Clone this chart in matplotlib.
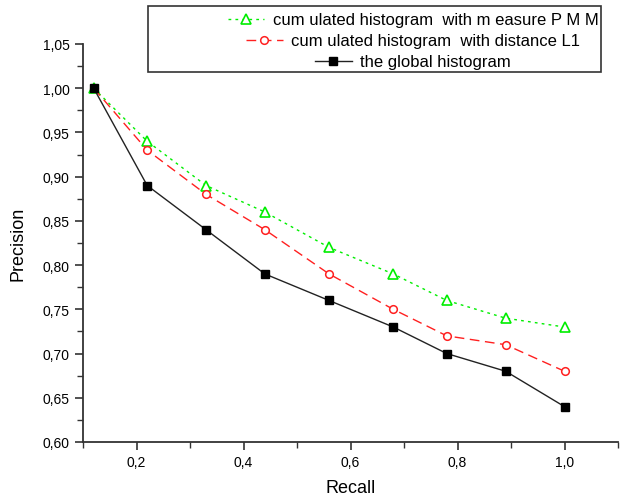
import matplotlib.pyplot as plt
from matplotlib.patches import Rectangle
from matplotlib.ticker import MultipleLocator, FuncFormatter

plt.rcParams['font.family'] = ['Liberation Sans', 'DejaVu Sans']

recall = [0.12, 0.22, 0.33, 0.44, 0.56, 0.68, 0.78, 0.89, 1.00]
pmm = [1.00, 0.94, 0.89, 0.86, 0.82, 0.79, 0.76, 0.74, 0.73]
l1 = [1.00, 0.93, 0.88, 0.84, 0.79, 0.75, 0.72, 0.71, 0.68]
glob = [1.00, 0.89, 0.84, 0.79, 0.76, 0.73, 0.70, 0.68, 0.64]

labels = ["cum ulated histogram  with m easure P M M",
          "cum ulated histogram  with distance L1",
          "the global histogram"]

W, H = 622, 502
fig = plt.figure(figsize=(W / 100, H / 100), dpi=100)
ax = fig.add_axes([83 / W, 1 - 443 / H, 535 / W, 398 / H])

ax.plot(recall, pmm, color="#00ee00", linewidth=1, linestyle=(0, (2, 3)),
        marker="^", markersize=7, markerfacecolor="white", markeredgecolor="#00ee00",
        markeredgewidth=1.2, label=labels[0])
ax.plot(recall, l1, color="#ff2020", linewidth=1, linestyle=(0, (7, 4)),
        marker="o", markersize=5.5, markerfacecolor="white", markeredgecolor="#ff2020",
        markeredgewidth=1.1, label=labels[1])
ax.plot(recall, glob, color="#222222", linewidth=1, linestyle="-",
        marker="s", markersize=5.5, markerfacecolor="black", markeredgecolor="black",
        label=labels[2])

ax.set_xlim(0.1, 1.1)
ax.set_ylim(0.6, 1.05)
ax.xaxis.set_major_locator(MultipleLocator(0.2))
ax.xaxis.set_minor_locator(MultipleLocator(0.1))
ax.yaxis.set_major_locator(MultipleLocator(0.05))
ax.yaxis.set_minor_locator(MultipleLocator(0.025))
ax.xaxis.set_major_formatter(FuncFormatter(lambda v, p: f"{v:.1f}".replace(".", ",") if v > 0.15 else ""))
ax.yaxis.set_major_formatter(FuncFormatter(lambda v, p: f"{v:.2f}".replace(".", ",")))

for s in ["top", "right"]:
    ax.spines[s].set_visible(False)
for s in ["left", "bottom"]:
    ax.spines[s].set_linewidth(1.3)
    ax.spines[s].set_color("#333333")
ax.tick_params(which="major", length=6, width=1.2, labelsize=10, color="#333333")
ax.tick_params(which="minor", length=4, width=1.0, color="#333333")

ax.set_xlabel("Recall", fontsize=13, labelpad=7)
ax.set_ylabel("Precision", fontsize=13, labelpad=12)

# legend: rows centred, frame drawn separately (wider on the left as in the original)
leg = fig.legend(loc="upper center", bbox_to_anchor=(413 / W, 1 - 5 / H), fontsize=12,
                 frameon=False, handlelength=2.2, borderpad=0.0,
                 labelspacing=0.36, handletextpad=0.5)
leg._legend_handle_box.get_children()[0].align = "center"
fig.patches.append(Rectangle((148 / W, 1 - 73 / H), 453 / W, 66 / H,
                             transform=fig.transFigure, fill=False,
                             edgecolor="#333333", linewidth=1.2))

fig.savefig("out.png", dpi=100)
